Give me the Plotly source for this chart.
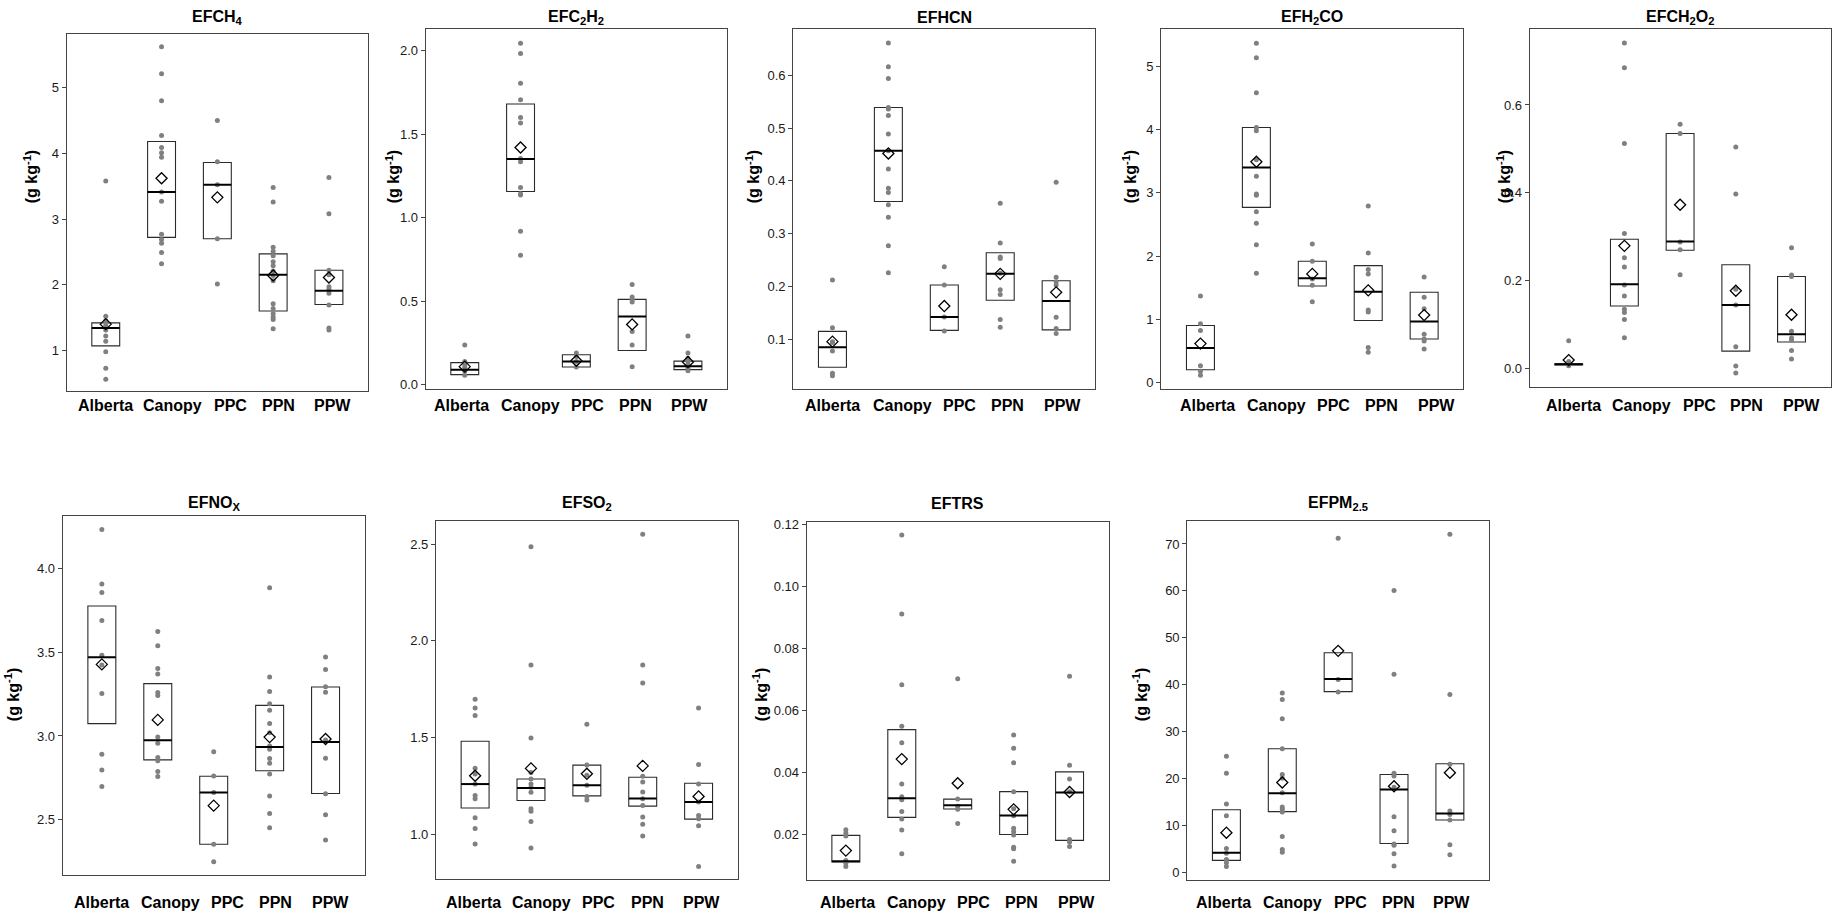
import plotly.graph_objects as go

W, H = 1832, 918
CATS = ["Alberta", "Canopy", "PPC", "PPN", "PPW"]

# ---------------- EFCH4 ----------------
CH4_LOWER = [1.07, 2.72, 2.70, 1.60, 1.70]
CH4_MEDIAN = [1.34, 3.41, 3.52, 2.15, 1.91]
CH4_UPPER = [1.42, 4.18, 3.86, 2.47, 2.22]
CH4_MEAN = [1.40, 3.62, 3.33, 2.14, 2.11]
CH4_POINTS = [
    [3.58, 1.52, 1.45, 1.38, 1.31, 1.22, 1.14, 0.98, 0.73, 0.56],
    [5.62, 5.21, 4.80, 4.27, 4.09, 4.01, 3.94, 3.41, 3.27, 2.77, 2.69, 2.63, 2.49, 2.32],
    [4.50, 3.87, 3.52, 2.70, 2.01],
    [3.48, 3.26, 2.57, 2.51, 2.44, 2.35, 2.29, 2.21, 2.14, 2.06, 1.71, 1.64, 1.56, 1.51, 1.47, 1.33],
    [3.63, 3.08, 2.22, 2.15, 1.97, 1.93, 1.87, 1.69, 1.34, 1.31],
]
CH4_TICKS = [1, 2, 3, 4, 5]

# ---------------- EFC2H2 ----------------
C2H2_LOWER = [0.059, 1.157, 0.105, 0.204, 0.089]
C2H2_MEDIAN = [0.089, 1.351, 0.138, 0.408, 0.109]
C2H2_UPPER = [0.131, 1.681, 0.178, 0.510, 0.140]
C2H2_MEAN = [0.107, 1.42, 0.142, 0.36, 0.135]
C2H2_POINTS = [
    [0.237, 0.138, 0.119, 0.103, 0.079, 0.055],
    [2.045, 1.984, 1.806, 1.707, 1.60, 1.567, 1.355, 1.335, 1.181, 1.143, 1.135, 0.918, 0.775],
    [0.188, 0.168, 0.138, 0.105],
    [0.599, 0.524, 0.508, 0.495, 0.317, 0.237, 0.107],
    [0.291, 0.188, 0.158, 0.138, 0.119, 0.099, 0.083],
]
C2H2_TICKS = [0.0, 0.5, 1.0, 1.5, 2.0]

# ---------------- EFHCN ----------------
HCN_LOWER = [0.047, 0.361, 0.117, 0.174, 0.118]
HCN_MEDIAN = [0.085, 0.457, 0.1425, 0.224, 0.1725]
HCN_UPPER = [0.115, 0.539, 0.203, 0.264, 0.211]
HCN_MEAN = [0.0956, 0.452, 0.163, 0.224, 0.189]
HCN_POINTS = [
    [0.2125, 0.122, 0.0956, 0.094, 0.078, 0.036, 0.031],
    [0.661, 0.616, 0.594, 0.539, 0.536, 0.524, 0.489, 0.457, 0.4225, 0.386, 0.378, 0.355, 0.331, 0.277, 0.226],
    [0.2375, 0.203, 0.1425, 0.116],
    [0.3575, 0.2825, 0.256, 0.253, 0.225, 0.194, 0.185, 0.1375, 0.123],
    [0.3975, 0.2175, 0.209, 0.203, 0.142, 0.1206, 0.111],
]
HCN_TICKS = [0.1, 0.2, 0.3, 0.4, 0.5, 0.6]

# ---------------- EFH2CO ----------------
H2CO_LOWER = [0.208, 2.77, 1.53, 0.984, 0.693]
H2CO_MEDIAN = [0.552, 3.40, 1.65, 1.44, 0.969]
H2CO_UPPER = [0.906, 4.03, 1.92, 1.85, 1.43]
H2CO_MEAN = [0.62, 3.49, 1.72, 1.46, 1.07]
H2CO_POINTS = [
    [1.37, 0.932, 0.828, 0.271, 0.182, 0.12],
    [5.36, 5.13, 4.58, 4.03, 3.98, 3.52, 3.26, 2.98, 2.96, 2.70, 2.52, 2.18, 1.73],
    [2.19, 1.92, 1.64, 1.54, 1.28],
    [2.79, 2.05, 1.79, 1.72, 1.15, 1.12, 0.557, 0.484],
    [1.67, 1.35, 1.17, 0.766, 0.693, 0.66, 0.536],
]
H2CO_TICKS = [0, 1, 2, 3, 4, 5]

# ---------------- EFCH2O2 ----------------
CH2O2_LOWER = [0.0075, 0.142, 0.269, 0.039, 0.0598]
CH2O2_MEDIAN = [0.009, 0.1915, 0.289, 0.144, 0.0778]
CH2O2_UPPER = [0.0105, 0.294, 0.535, 0.236, 0.209]
CH2O2_MEAN = [0.0187, 0.279, 0.3726, 0.1766, 0.122]
CH2O2_POINTS = [
    [0.0628, 0.0157, 0.006],
    [0.741, 0.685, 0.512, 0.307, 0.252, 0.231, 0.190, 0.1646, 0.1347, 0.127, 0.111, 0.0696],
    [0.556, 0.535, 0.288, 0.270, 0.213],
    [0.504, 0.397, 0.180, 0.144, 0.049, 0.005, -0.011],
    [0.2746, 0.2125, 0.209, 0.0845, 0.0688, 0.0643, 0.0404, 0.021],
]
CH2O2_TICKS = [0.0, 0.2, 0.4, 0.6]

# ---------------- EFNOx ----------------
NOX_LOWER = [3.074, 2.857, 2.352, 2.792, 2.656]
NOX_MEDIAN = [3.471, 2.974, 2.662, 2.934, 2.964]
NOX_UPPER = [3.777, 3.313, 2.759, 3.183, 3.293]
NOX_MEAN = [3.428, 3.096, 2.583, 2.993, 2.982]
NOX_POINTS = [
    [4.235, 3.909, 3.858, 3.690, 3.483, 3.424, 3.254, 2.891, 2.796, 2.697],
    [3.625, 3.540, 3.404, 3.370, 3.260, 3.242, 2.993, 2.956, 2.871, 2.851, 2.788, 2.757],
    [2.905, 2.760, 2.662, 2.352, 2.247],
    [3.886, 3.353, 3.266, 3.193, 3.153, 3.074, 3.019, 2.940, 2.920, 2.865, 2.837, 2.772, 2.640, 2.536, 2.451],
    [3.473, 3.398, 3.295, 3.262, 2.976, 2.867, 2.654, 2.528, 2.378],
]
NOX_TICKS = [2.5, 3.0, 3.5, 4.0]

# ---------------- EFSO2 ----------------
SO2_LOWER = [1.135, 1.174, 1.198, 1.145, 1.078]
SO2_MEDIAN = [1.259, 1.239, 1.253, 1.184, 1.166]
SO2_UPPER = [1.480, 1.285, 1.357, 1.294, 1.263]
SO2_MEAN = [1.302, 1.340, 1.312, 1.353, 1.195]
SO2_POINTS = [
    [1.698, 1.652, 1.614, 1.341, 1.311, 1.259, 1.20, 1.183, 1.085, 1.029, 0.949],
    [2.486, 1.875, 1.497, 1.319, 1.285, 1.259, 1.242, 1.217, 1.131, 1.119, 1.065, 0.928],
    [1.568, 1.357, 1.305, 1.253, 1.195, 1.177],
    [2.551, 1.875, 1.782, 1.300, 1.270, 1.218, 1.183, 1.148, 1.089, 1.051, 0.990],
    [1.652, 1.360, 1.259, 1.166, 1.097, 1.080, 1.043, 0.833],
]
SO2_TICKS = [1.0, 1.5, 2.0, 2.5]

# ---------------- EFTRS ----------------
TRS_LOWER = [0.0111, 0.0255, 0.0282, 0.0200, 0.0181]
TRS_MEDIAN = [0.0114, 0.0317, 0.0294, 0.0261, 0.0335]
TRS_UPPER = [0.0197, 0.0538, 0.0314, 0.0338, 0.0402]
TRS_MEAN = [0.0148, 0.0443, 0.0365, 0.0281, 0.0337]
TRS_POINTS = [
    [0.0215, 0.0205, 0.0195, 0.0116, 0.0107, 0.0097],
    [0.1166, 0.0911, 0.0683, 0.0549, 0.0496, 0.0363, 0.0322, 0.0312, 0.0274, 0.0250, 0.0214, 0.0138],
    [0.0702, 0.0314, 0.0291, 0.0281, 0.0235],
    [0.0521, 0.0478, 0.0431, 0.0338, 0.0283, 0.0260, 0.0220, 0.0209, 0.0198, 0.0159, 0.0154, 0.0114],
    [0.0710, 0.0423, 0.0379, 0.0338, 0.0184, 0.0176, 0.0161],
]
TRS_TICKS = [0.02, 0.04, 0.06, 0.08, 0.10, 0.12]

# ---------------- EFPM2.5 ----------------
PM25_LOWER = [2.5, 12.9, 38.5, 6.1, 11.1]
PM25_MEDIAN = [4.1, 16.8, 41.2, 17.6, 12.5]
PM25_UPPER = [13.3, 26.3, 46.8, 20.8, 23.1]
PM25_MEAN = [8.4, 19.1, 47.2, 18.3, 21.2]
PM25_POINTS = [
    [24.7, 21.1, 14.5, 12.0, 5.0, 4.0, 2.7, 2.0, 1.2],
    [38.2, 36.8, 32.7, 26.3, 20.8, 20.0, 16.9, 13.9, 13.4, 12.8, 7.6, 4.8, 4.2],
    [71.2, 41.1, 38.4],
    [60.1, 42.2, 21.1, 20.5, 18.1, 11.8, 8.8, 6.0, 5.7, 3.9, 1.3],
    [72.1, 37.9, 23.0, 13.0, 12.3, 11.1, 5.8, 3.7],
]
PM25_TICKS = [0, 10, 20, 30, 40, 50, 60, 70]

# ---------------- panel layout (pixel boxes, label nudges in px) ----------------
PANELS = [
    dict(title="EFCH<sub>4</sub>", lo=CH4_LOWER, med=CH4_MEDIAN, up=CH4_UPPER, mean=CH4_MEAN, pts=CH4_POINTS,
         ticks=CH4_TICKS, fmt="{:g}", yr=[0.38, 5.82], box=(66.7, 368, 29, 390), ytitle=(31, 173),
         row=1, labdx=[0, 11, 13, 5, 4]),
    dict(title="EFC<sub>2</sub>H<sub>2</sub>", lo=C2H2_LOWER, med=C2H2_MEDIAN, up=C2H2_UPPER, mean=C2H2_MEAN, pts=C2H2_POINTS,
         ticks=C2H2_TICKS, fmt="{:.1f}", yr=[-0.024, 2.13], box=(425.7, 727, 24.3, 387.3), ytitle=(393, 173),
         row=1, labdx=[-3, 10, 11, 3, 2]),
    dict(title="EFHCN", lo=HCN_LOWER, med=HCN_MEDIAN, up=HCN_UPPER, mean=HCN_MEAN, pts=HCN_POINTS,
         ticks=HCN_TICKS, fmt="{:.1f}", yr=[0.0069, 0.6875], box=(793.3, 1095.3, 24.3, 387.3), ytitle=(753, 173),
         row=1, labdx=[0, 14, 15, 7, 6]),
    dict(title="EFH<sub>2</sub>CO", lo=H2CO_LOWER, med=H2CO_MEDIAN, up=H2CO_UPPER, mean=H2CO_MEAN, pts=H2CO_POINTS,
         ticks=H2CO_TICKS, fmt="{:g}", yr=[-0.0885, 5.583], box=(1161.3, 1463.3, 24.3, 387.3), ytitle=(1130, 173),
         row=1, labdx=[7, 20, 21, 13, 12]),
    dict(title="EFCH<sub>2</sub>O<sub>2</sub>", lo=CH2O2_LOWER, med=CH2O2_MEDIAN, up=CH2O2_UPPER, mean=CH2O2_MEAN, pts=CH2O2_POINTS,
         ticks=CH2O2_TICKS, fmt="{:.1f}", yr=[-0.042, 0.773], box=(1529.7, 1830.5, 24.3, 385.5), ytitle=(1504, 173),
         row=1, labdx=[5, 17, 19, 11, 10]),
    dict(title="EFNO<sub>X</sub>", lo=NOX_LOWER, med=NOX_MEDIAN, up=NOX_UPPER, mean=NOX_MEAN, pts=NOX_POINTS,
         ticks=NOX_TICKS, fmt="{:.1f}", yr=[2.170, 4.318], box=(62.7, 364.7, 515.7, 878.3), ytitle=(12, 696),
         row=2, labdx=[0, 13, 14, 6, 5]),
    dict(title="EFSO<sub>2</sub>", lo=SO2_LOWER, med=SO2_MEDIAN, up=SO2_UPPER, mean=SO2_MEAN, pts=SO2_POINTS,
         ticks=SO2_TICKS, fmt="{:.1f}", yr=[0.768, 2.621], box=(436, 737.7, 520.7, 882.7), ytitle=None,
         row=2, labdx=[-2, 11, 12, 5, 3]),
    dict(title="EFTRS", lo=TRS_LOWER, med=TRS_MEDIAN, up=TRS_UPPER, mean=TRS_MEAN, pts=TRS_POINTS,
         ticks=TRS_TICKS, fmt="{:.2f}", yr=[0.00543, 0.1209], box=(806.7, 1108.7, 521.7, 883.3), ytitle=(760, 696),
         row=2, labdx=[2, 15, 16, 8, 7]),
    dict(title="EFPM<sub>2.5</sub>", lo=PM25_LOWER, med=PM25_MEDIAN, up=PM25_UPPER, mean=PM25_MEAN, pts=PM25_POINTS,
         ticks=PM25_TICKS, fmt="{:g}", yr=[-1.62, 74.93], box=(1187.3, 1489, 521, 883.3), ytitle=(1140, 696),
         row=2, labdx=[-3, 10, 12, 4, 2]),
]

FONT = "Liberation Sans, Arial, sans-serif"
BOX_W = 0.5
XR = [-0.7, 4.7]

fig = go.Figure()
annotations = []
layout_axes = {}

for k, p in enumerate(PANELS, start=1):
    xa = "x" if k == 1 else f"x{k}"
    ya = "y" if k == 1 else f"y{k}"
    xpos = list(range(len(CATS)))

    # raw points
    px, py = [], []
    for i, vals in enumerate(p["pts"]):
        px += [i] * len(vals)
        py += vals
    fig.add_trace(go.Scatter(x=px, y=py, mode="markers", xaxis=xa, yaxis=ya,
                             marker=dict(color="#808080", size=5, line=dict(width=0)),
                             showlegend=False, hoverinfo="y"))
    # crossbar boxes
    fig.add_trace(go.Bar(x=xpos, y=[u - l for u, l in zip(p["up"], p["lo"])], base=p["lo"],
                         width=BOX_W, xaxis=xa, yaxis=ya,
                         marker=dict(color="rgba(0,0,0,0)", line=dict(color="#2b2b2b", width=1.1)),
                         showlegend=False, hoverinfo="skip"))
    # median lines
    mx, my = [], []
    for i, m in enumerate(p["med"]):
        mx += [i - BOX_W / 2, i + BOX_W / 2, None]
        my += [m, m, None]
    fig.add_trace(go.Scatter(x=mx, y=my, mode="lines", xaxis=xa, yaxis=ya,
                             line=dict(color="black", width=2), showlegend=False, hoverinfo="skip"))
    # means
    fig.add_trace(go.Scatter(x=xpos, y=p["mean"], mode="markers", xaxis=xa, yaxis=ya,
                             marker=dict(symbol="diamond-open", size=8.5, color="black", line=dict(width=1.3)),
                             showlegend=False, hoverinfo="y"))

    x0, x1, y0, y1 = p["box"]
    row2 = p["row"] == 2
    layout_axes[f"xaxis{k}"] = dict(
        domain=[x0 / W, x1 / W], anchor=ya, range=XR,
        tickvals=xpos, showticklabels=False, ticks="",
        showline=True, mirror=True, linecolor="#444444", linewidth=1.2,
        showgrid=False, zeroline=False, fixedrange=True)
    layout_axes[f"yaxis{k}"] = dict(
        domain=[1 - y1 / H, 1 - y0 / H], anchor=xa, range=p["yr"],
        tickvals=p["ticks"], ticktext=[p["fmt"].format(t) for t in p["ticks"]],
        tickfont=dict(family=FONT, size=13, color="#1a1a1a"),
        ticks="outside", ticklen=4, tickcolor="#444444", tickwidth=1,
        showline=True, mirror=True, linecolor="#444444", linewidth=1.2,
        showgrid=False, zeroline=False, fixedrange=True)

    # category labels (typed under each panel, slightly offset from the category centres)
    ppu = (x1 - x0) / (XR[1] - XR[0])
    for i, c in enumerate(CATS):
        annotations.append(dict(text=f"<b>{c}</b>", xref=xa, yref="paper",
                                x=i + p["labdx"][i] / ppu, y=1 - (906 if row2 else 404) / H,
                                xanchor="center", yanchor="middle", showarrow=False,
                                font=dict(family=FONT, size=16, color="black")))

    # panel title
    annotations.append(dict(text=f"<b>{p['title']}</b>", xref="paper", yref="paper",
                            x=(x0 + x1) / 2 / W, y=1 - (503 if row2 else 13) / H,
                            xanchor="center", yanchor="middle", showarrow=False,
                            font=dict(family=FONT, size=16, color="black")))
    # y axis title
    if p["ytitle"] is not None:
        tx, ty = p["ytitle"]
        annotations.append(dict(text="<b>(g kg<sup>-1</sup>)</b>", xref="paper", yref="paper",
                                x=tx / W, y=1 - ty / H, xanchor="center", yanchor="middle",
                                textangle=-90, showarrow=False,
                                font=dict(family=FONT, size=16, color="black")))

fig.update_layout(
    width=W, height=H, autosize=False,
    margin=dict(l=0, r=0, t=0, b=0),
    paper_bgcolor="white", plot_bgcolor="white",
    showlegend=False, annotations=annotations,
    **layout_axes,
)

fig.write_html("out.html", config={"displayModeBar": False},
               post_script="document.body.style.margin='0';document.body.style.overflow='hidden';")
